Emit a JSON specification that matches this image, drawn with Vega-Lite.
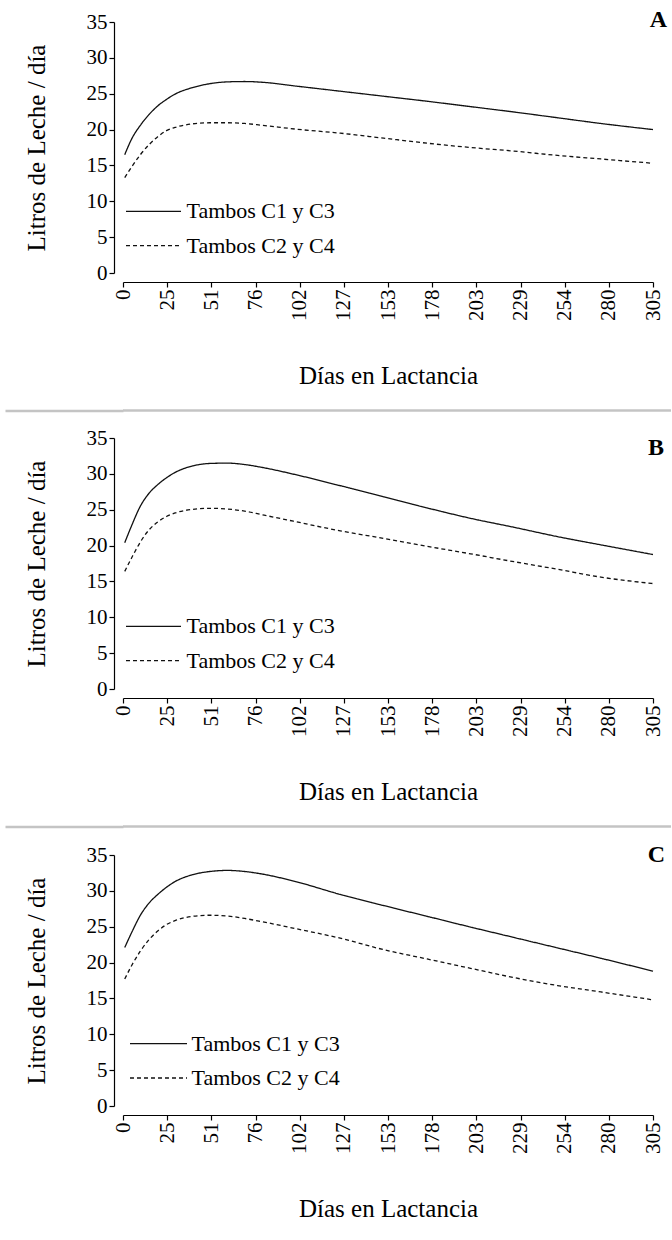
{
  "$schema": "https://vega.github.io/schema/vega-lite/v6.json",
  "padding": {"left": 3, "top": 7, "right": 0, "bottom": 0},
  "spacing": 14.5,
  "resolve": {"scale": {"strokeDash": "independent"}, "legend": {"strokeDash": "independent"}},
  "config": {
    "font": "Liberation Serif",
    "view": {"stroke": null},
    "axis": {"grid": false, "domainColor": "#000", "tickColor": "#000", "labelColor": "#000", "titleColor": "#000", "labelFont": "Liberation Serif", "titleFont": "Liberation Serif", "titleFontWeight": "normal", "domainWidth": 1.2, "tickWidth": 1.2, "labelOverlap": false, "labelFlush": false},
    "axisX": {"offset": 9, "tickSize": 5, "labelPadding": 2, "labelAngle": 270, "labelFontSize": 21, "titleFontSize": 25, "titlePadding": 43},
    "axisY": {"offset": 9, "tickSize": 5, "labelPadding": 2, "labelFontSize": 21, "titleFontSize": 25, "titlePadding": 37},
    "legend": {"labelFont": "Liberation Serif", "labelColor": "#000", "orient": "none", "symbolType": "M-5,0H5", "symbolStrokeWidth": 1.3, "symbolStrokeColor": "#111", "symbolFillColor": "transparent", "labelFontSize": 22, "labelOffset": 22, "rowPadding": 12.3},
    "title": {"font": "Liberation Serif", "fontWeight": "bold", "fontSize": 24, "color": "#000", "anchor": "end", "frame": "group", "orient": "top", "baseline": "middle", "offset": 0}
  },
  "datasets": {
    "A": [
      {"dia": 1, "litros": 16.5, "serie": "Tambos C1 y C3"}, {"dia": 5, "litros": 18.7, "serie": "Tambos C1 y C3"}, {"dia": 10, "litros": 20.6, "serie": "Tambos C1 y C3"}, {"dia": 15, "litros": 22.1, "serie": "Tambos C1 y C3"}, {"dia": 20, "litros": 23.3, "serie": "Tambos C1 y C3"}, {"dia": 25, "litros": 24.2, "serie": "Tambos C1 y C3"}, {"dia": 30, "litros": 24.95, "serie": "Tambos C1 y C3"}, {"dia": 40, "litros": 25.85, "serie": "Tambos C1 y C3"}, {"dia": 50, "litros": 26.4, "serie": "Tambos C1 y C3"}, {"dia": 60, "litros": 26.65, "serie": "Tambos C1 y C3"}, {"dia": 70, "litros": 26.7, "serie": "Tambos C1 y C3"}, {"dia": 80, "litros": 26.6, "serie": "Tambos C1 y C3"}, {"dia": 100, "litros": 26.05, "serie": "Tambos C1 y C3"}, {"dia": 125, "litros": 25.35, "serie": "Tambos C1 y C3"}, {"dia": 150, "litros": 24.65, "serie": "Tambos C1 y C3"}, {"dia": 175, "litros": 23.95, "serie": "Tambos C1 y C3"}, {"dia": 200, "litros": 23.2, "serie": "Tambos C1 y C3"}, {"dia": 225, "litros": 22.45, "serie": "Tambos C1 y C3"}, {"dia": 250, "litros": 21.65, "serie": "Tambos C1 y C3"}, {"dia": 275, "litros": 20.85, "serie": "Tambos C1 y C3"}, {"dia": 305, "litros": 20.0, "serie": "Tambos C1 y C3"},
      {"dia": 1, "litros": 13.3, "serie": "Tambos C2 y C4"}, {"dia": 5, "litros": 14.8, "serie": "Tambos C2 y C4"}, {"dia": 10, "litros": 16.5, "serie": "Tambos C2 y C4"}, {"dia": 15, "litros": 17.9, "serie": "Tambos C2 y C4"}, {"dia": 20, "litros": 19.0, "serie": "Tambos C2 y C4"}, {"dia": 25, "litros": 19.85, "serie": "Tambos C2 y C4"}, {"dia": 30, "litros": 20.3, "serie": "Tambos C2 y C4"}, {"dia": 40, "litros": 20.8, "serie": "Tambos C2 y C4"}, {"dia": 50, "litros": 20.95, "serie": "Tambos C2 y C4"}, {"dia": 60, "litros": 20.95, "serie": "Tambos C2 y C4"}, {"dia": 70, "litros": 20.85, "serie": "Tambos C2 y C4"}, {"dia": 80, "litros": 20.6, "serie": "Tambos C2 y C4"}, {"dia": 100, "litros": 20.05, "serie": "Tambos C2 y C4"}, {"dia": 125, "litros": 19.5, "serie": "Tambos C2 y C4"}, {"dia": 150, "litros": 18.8, "serie": "Tambos C2 y C4"}, {"dia": 175, "litros": 18.1, "serie": "Tambos C2 y C4"}, {"dia": 200, "litros": 17.5, "serie": "Tambos C2 y C4"}, {"dia": 225, "litros": 17.0, "serie": "Tambos C2 y C4"}, {"dia": 250, "litros": 16.4, "serie": "Tambos C2 y C4"}, {"dia": 275, "litros": 15.9, "serie": "Tambos C2 y C4"}, {"dia": 305, "litros": 15.3, "serie": "Tambos C2 y C4"}
    ],
    "B": [
      {"dia": 1, "litros": 20.4, "serie": "Tambos C1 y C3"}, {"dia": 5, "litros": 22.8, "serie": "Tambos C1 y C3"}, {"dia": 10, "litros": 25.5, "serie": "Tambos C1 y C3"}, {"dia": 15, "litros": 27.3, "serie": "Tambos C1 y C3"}, {"dia": 20, "litros": 28.5, "serie": "Tambos C1 y C3"}, {"dia": 25, "litros": 29.45, "serie": "Tambos C1 y C3"}, {"dia": 30, "litros": 30.2, "serie": "Tambos C1 y C3"}, {"dia": 40, "litros": 31.1, "serie": "Tambos C1 y C3"}, {"dia": 50, "litros": 31.45, "serie": "Tambos C1 y C3"}, {"dia": 60, "litros": 31.5, "serie": "Tambos C1 y C3"}, {"dia": 70, "litros": 31.3, "serie": "Tambos C1 y C3"}, {"dia": 80, "litros": 30.9, "serie": "Tambos C1 y C3"}, {"dia": 100, "litros": 29.85, "serie": "Tambos C1 y C3"}, {"dia": 125, "litros": 28.35, "serie": "Tambos C1 y C3"}, {"dia": 150, "litros": 26.8, "serie": "Tambos C1 y C3"}, {"dia": 175, "litros": 25.25, "serie": "Tambos C1 y C3"}, {"dia": 200, "litros": 23.8, "serie": "Tambos C1 y C3"}, {"dia": 225, "litros": 22.55, "serie": "Tambos C1 y C3"}, {"dia": 250, "litros": 21.25, "serie": "Tambos C1 y C3"}, {"dia": 275, "litros": 20.1, "serie": "Tambos C1 y C3"}, {"dia": 305, "litros": 18.75, "serie": "Tambos C1 y C3"},
      {"dia": 1, "litros": 16.4, "serie": "Tambos C2 y C4"}, {"dia": 5, "litros": 18.3, "serie": "Tambos C2 y C4"}, {"dia": 10, "litros": 20.5, "serie": "Tambos C2 y C4"}, {"dia": 15, "litros": 22.2, "serie": "Tambos C2 y C4"}, {"dia": 20, "litros": 23.3, "serie": "Tambos C2 y C4"}, {"dia": 25, "litros": 24.05, "serie": "Tambos C2 y C4"}, {"dia": 30, "litros": 24.55, "serie": "Tambos C2 y C4"}, {"dia": 40, "litros": 25.05, "serie": "Tambos C2 y C4"}, {"dia": 50, "litros": 25.2, "serie": "Tambos C2 y C4"}, {"dia": 60, "litros": 25.1, "serie": "Tambos C2 y C4"}, {"dia": 70, "litros": 24.8, "serie": "Tambos C2 y C4"}, {"dia": 80, "litros": 24.3, "serie": "Tambos C2 y C4"}, {"dia": 100, "litros": 23.3, "serie": "Tambos C2 y C4"}, {"dia": 125, "litros": 22.05, "serie": "Tambos C2 y C4"}, {"dia": 150, "litros": 21.0, "serie": "Tambos C2 y C4"}, {"dia": 175, "litros": 19.9, "serie": "Tambos C2 y C4"}, {"dia": 200, "litros": 18.85, "serie": "Tambos C2 y C4"}, {"dia": 225, "litros": 17.75, "serie": "Tambos C2 y C4"}, {"dia": 250, "litros": 16.7, "serie": "Tambos C2 y C4"}, {"dia": 275, "litros": 15.6, "serie": "Tambos C2 y C4"}, {"dia": 305, "litros": 14.7, "serie": "Tambos C2 y C4"}
    ],
    "C": [
      {"dia": 1, "litros": 22.1, "serie": "Tambos C1 y C3"}, {"dia": 5, "litros": 24.2, "serie": "Tambos C1 y C3"}, {"dia": 10, "litros": 26.6, "serie": "Tambos C1 y C3"}, {"dia": 15, "litros": 28.3, "serie": "Tambos C1 y C3"}, {"dia": 20, "litros": 29.5, "serie": "Tambos C1 y C3"}, {"dia": 25, "litros": 30.5, "serie": "Tambos C1 y C3"}, {"dia": 30, "litros": 31.3, "serie": "Tambos C1 y C3"}, {"dia": 40, "litros": 32.25, "serie": "Tambos C1 y C3"}, {"dia": 50, "litros": 32.7, "serie": "Tambos C1 y C3"}, {"dia": 60, "litros": 32.85, "serie": "Tambos C1 y C3"}, {"dia": 70, "litros": 32.7, "serie": "Tambos C1 y C3"}, {"dia": 80, "litros": 32.35, "serie": "Tambos C1 y C3"}, {"dia": 100, "litros": 31.25, "serie": "Tambos C1 y C3"}, {"dia": 125, "litros": 29.5, "serie": "Tambos C1 y C3"}, {"dia": 150, "litros": 27.95, "serie": "Tambos C1 y C3"}, {"dia": 175, "litros": 26.45, "serie": "Tambos C1 y C3"}, {"dia": 200, "litros": 24.95, "serie": "Tambos C1 y C3"}, {"dia": 225, "litros": 23.5, "serie": "Tambos C1 y C3"}, {"dia": 250, "litros": 22.05, "serie": "Tambos C1 y C3"}, {"dia": 275, "litros": 20.6, "serie": "Tambos C1 y C3"}, {"dia": 305, "litros": 18.8, "serie": "Tambos C1 y C3"},
      {"dia": 1, "litros": 17.7, "serie": "Tambos C2 y C4"}, {"dia": 5, "litros": 19.6, "serie": "Tambos C2 y C4"}, {"dia": 10, "litros": 21.6, "serie": "Tambos C2 y C4"}, {"dia": 15, "litros": 23.2, "serie": "Tambos C2 y C4"}, {"dia": 20, "litros": 24.4, "serie": "Tambos C2 y C4"}, {"dia": 25, "litros": 25.3, "serie": "Tambos C2 y C4"}, {"dia": 30, "litros": 25.85, "serie": "Tambos C2 y C4"}, {"dia": 40, "litros": 26.45, "serie": "Tambos C2 y C4"}, {"dia": 50, "litros": 26.6, "serie": "Tambos C2 y C4"}, {"dia": 60, "litros": 26.5, "serie": "Tambos C2 y C4"}, {"dia": 70, "litros": 26.15, "serie": "Tambos C2 y C4"}, {"dia": 80, "litros": 25.7, "serie": "Tambos C2 y C4"}, {"dia": 100, "litros": 24.7, "serie": "Tambos C2 y C4"}, {"dia": 125, "litros": 23.4, "serie": "Tambos C2 y C4"}, {"dia": 150, "litros": 21.8, "serie": "Tambos C2 y C4"}, {"dia": 175, "litros": 20.5, "serie": "Tambos C2 y C4"}, {"dia": 200, "litros": 19.2, "serie": "Tambos C2 y C4"}, {"dia": 225, "litros": 17.9, "serie": "Tambos C2 y C4"}, {"dia": 250, "litros": 16.8, "serie": "Tambos C2 y C4"}, {"dia": 275, "litros": 15.9, "serie": "Tambos C2 y C4"}, {"dia": 305, "litros": 14.8, "serie": "Tambos C2 y C4"}
    ]
  },
  "vconcat": [
    {
      "width": 530, "height": 251,
      "title": {"text": "A", "dx": 14, "dy": 24.7},
      "data": {"name": "A"},
      "mark": {"type": "line", "interpolate": "monotone", "color": "#111", "strokeWidth": 1.3},
      "encoding": {
        "x": {"field": "dia", "type": "quantitative", "scale": {"domain": [0, 305], "nice": false, "zero": false},
          "axis": {"values": [0, 25.4167, 50.8333, 76.25, 101.6667, 127.0833, 152.5, 177.9167, 203.3333, 228.75, 254.1667, 279.5833, 305], "format": ".0f", "title": "Días en Lactancia"}},
        "y": {"field": "litros", "type": "quantitative", "scale": {"domain": [0, 35], "nice": false},
          "axis": {"values": [0, 5, 10, 15, 20, 25, 30, 35], "title": "Litros de Leche / día"}},
        "strokeDash": {"field": "serie", "type": "nominal", "scale": {"domain": ["Tambos C1 y C3", "Tambos C2 y C4"], "range": [[1, 0], [4, 3]]},
          "legend": {"legendX": 3, "legendY": 178.4, "title": null, "symbolSize": 121, "symbolOffset": 16.5}}
      }
    },
    {
      "width": 548, "height": 7,
      "data": {"values": [{"s": 0}]},
      "mark": {"type": "rule", "color": "#c4c4c4", "strokeWidth": 2.5},
      "encoding": {"y": {"field": "s", "type": "quantitative", "scale": {"domain": [0, 1]},
        "axis": {"values": [0], "tickSize": 118, "tickColor": "#c4c4c4", "tickWidth": 2.5, "labels": false, "domain": false, "title": null, "offset": 0}}}
    },
    {
      "width": 530, "height": 251,
      "title": {"text": "B", "dx": 11, "dy": 36.7},
      "data": {"name": "B"},
      "mark": {"type": "line", "interpolate": "monotone", "color": "#111", "strokeWidth": 1.3},
      "encoding": {
        "x": {"field": "dia", "type": "quantitative", "scale": {"domain": [0, 305], "nice": false, "zero": false},
          "axis": {"values": [0, 25.4167, 50.8333, 76.25, 101.6667, 127.0833, 152.5, 177.9167, 203.3333, 228.75, 254.1667, 279.5833, 305], "format": ".0f", "title": "Días en Lactancia"}},
        "y": {"field": "litros", "type": "quantitative", "scale": {"domain": [0, 35], "nice": false},
          "axis": {"values": [0, 5, 10, 15, 20, 25, 30, 35], "title": "Litros de Leche / día"}},
        "strokeDash": {"field": "serie", "type": "nominal", "scale": {"domain": ["Tambos C1 y C3", "Tambos C2 y C4"], "range": [[1, 0], [4, 3]]},
          "legend": {"legendX": 3, "legendY": 177.4, "title": null, "symbolSize": 121, "symbolOffset": 16.5}}
      }
    },
    {
      "width": 548, "height": 7,
      "data": {"values": [{"s": 0}]},
      "mark": {"type": "rule", "color": "#c4c4c4", "strokeWidth": 2.5},
      "encoding": {"y": {"field": "s", "type": "quantitative", "scale": {"domain": [0, 1]},
        "axis": {"values": [0], "tickSize": 118, "tickColor": "#c4c4c4", "tickWidth": 2.5, "labels": false, "domain": false, "title": null, "offset": 0}}}
    },
    {
      "width": 530, "height": 251,
      "title": {"text": "C", "dx": 12, "dy": 27},
      "data": {"name": "C"},
      "mark": {"type": "line", "interpolate": "monotone", "color": "#111", "strokeWidth": 1.3},
      "encoding": {
        "x": {"field": "dia", "type": "quantitative", "scale": {"domain": [0, 305], "nice": false, "zero": false},
          "axis": {"values": [0, 25.4167, 50.8333, 76.25, 101.6667, 127.0833, 152.5, 177.9167, 203.3333, 228.75, 254.1667, 279.5833, 305], "format": ".0f", "title": "Días en Lactancia"}},
        "y": {"field": "litros", "type": "quantitative", "scale": {"domain": [0, 35], "nice": false},
          "axis": {"values": [0, 5, 10, 15, 20, 25, 30, 35], "title": "Litros de Leche / día"}},
        "strokeDash": {"field": "serie", "type": "nominal", "scale": {"domain": ["Tambos C1 y C3", "Tambos C2 y C4"], "range": [[1, 0], [4, 3]]},
          "legend": {"legendX": 7, "legendY": 177.7, "title": null, "symbolSize": 130, "symbolOffset": 17.5, "labelOffset": 22}}
      }
    }
  ]
}
